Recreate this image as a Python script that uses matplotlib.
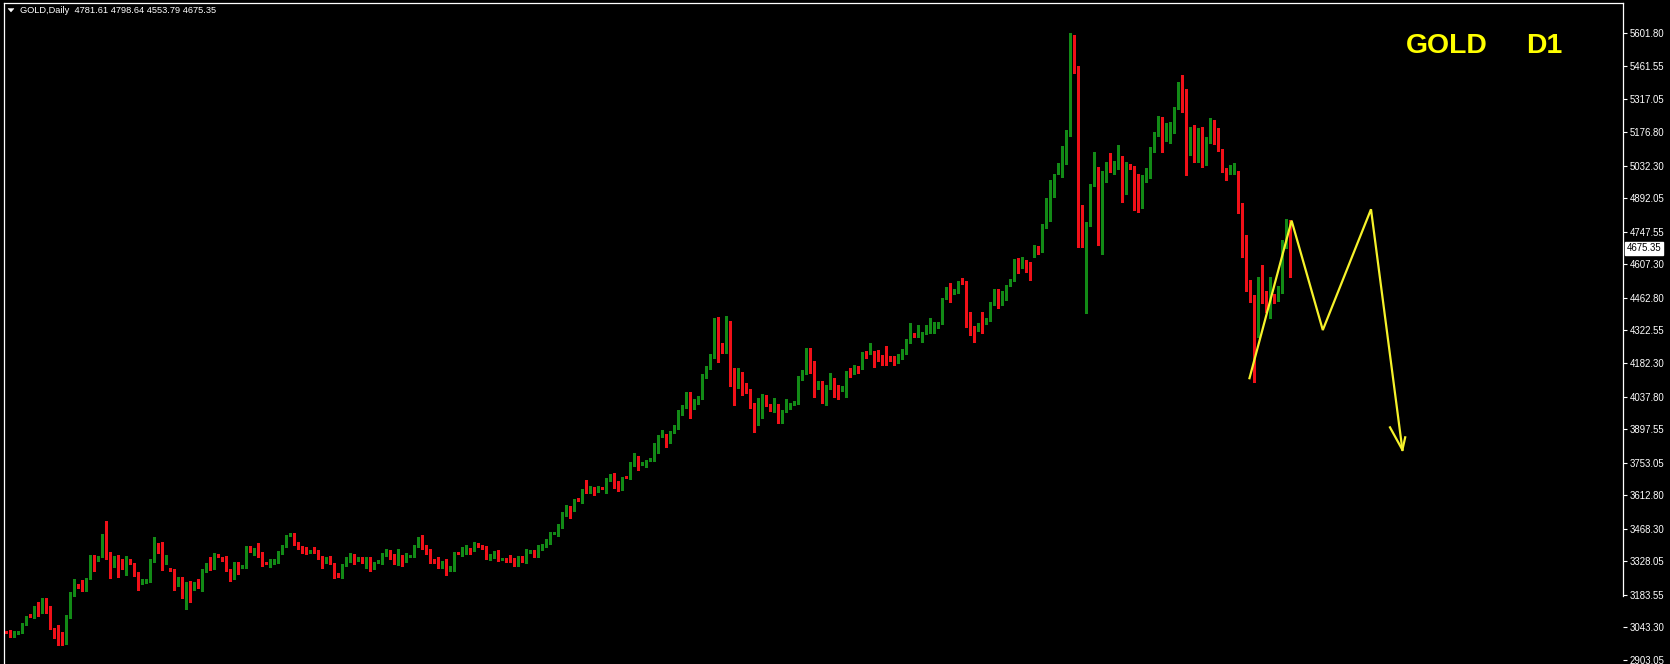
import matplotlib
matplotlib.use('Agg')
import matplotlib.pyplot as plt
from matplotlib.patches import Polygon
import matplotlib.transforms as mtransforms
import numpy as np

W, H, DPI = 1670, 664, 100

# ---------------- data (daily OHLC) ----------------
opens = [
    3026, 3029, 3008, 3020, 3021, 3058, 3094, 3092, 3133, 3111,
    3168, 3112, 3034, 3002, 2982, 2975, 3090, 3190, 3224, 3226,
    3207, 3255, 3351, 3334, 3351, 3437, 3336, 3312, 3351, 3334,
    3305, 3336, 3319, 3273, 3237, 3239, 3245, 3331, 3402, 3377,
    3322, 3293, 3291, 3226, 3255, 3183, 3240, 3212, 3245, 3204,
    3288, 3322, 3298, 3353, 3345, 3345, 3290, 3255, 3322, 3302,
    3308, 3391, 3359, 3377, 3365, 3322, 3312, 3319, 3326, 3362,
    3394, 3440, 3449, 3405, 3391, 3384, 3369, 3384, 3374, 3348,
    3326, 3345, 3319, 3273, 3262, 3312, 3334, 3355, 3334, 3341,
    3305, 3341, 3298, 3325, 3320, 3355, 3374, 3355, 3320, 3351,
    3330, 3350, 3348, 3391, 3437, 3394, 3377, 3334, 3341, 3305,
    3334, 3291, 3290, 3365, 3355, 3363, 3384, 3377, 3403, 3398,
    3391, 3337, 3348, 3374, 3336, 3338, 3336, 3341, 3312, 3348,
    3327, 3370, 3374, 3351, 3380, 3391, 3408, 3448, 3441, 3474,
    3527, 3564, 3549, 3594, 3585, 3647, 3628, 3647, 3632, 3645,
    3628, 3678, 3704, 3671, 3638, 3692, 3686, 3743, 3779, 3749,
    3739, 3763, 3764, 3829, 3866, 3872, 3858, 3886, 3901, 3965,
    3994, 4016, 3987, 4008, 4030, 4123, 4159, 4209, 4371, 4267,
    4231, 4360, 4097, 4080, 4130, 4092, 4066, 4006, 3951, 3951,
    4040, 4001, 3973, 4001, 3929, 3973, 3987, 4006, 4011, 4112,
    4138, 4192, 4188, 4073, 4102, 4037, 4073, 4112, 4083, 4066,
    4080, 4149, 4138, 4166, 4159, 4231, 4226, 4231, 4217, 4212,
    4209, 4209, 4209, 4188, 4202, 4224, 4274, 4307, 4296, 4296,
    4310, 4336, 4337, 4338, 4353, 4460, 4499, 4482, 4489, 4542,
    4532, 4341, 4336, 4324, 4353, 4353, 4367, 4436, 4496, 4461,
    4468, 4518, 4539, 4628, 4597, 4623, 4614, 4643, 4680, 4662,
    4772, 4800, 4913, 4999, 5028, 5042, 5164, 5516, 5451, 4791,
    4741, 4776, 4949, 5020, 4654, 4985, 5078, 4999, 5020, 5071,
    4913, 5035, 5028, 4992, 4855, 4970, 4985, 5107, 5164, 5236,
    5142, 5164, 5178, 5279, 5379, 5358, 5121, 5171, 5071, 5193,
    5071, 5135, 5200, 5142, 5099, 5016, 4999, 4999, 5006, 4834,
    4647, 4496, 4468, 4446, 4547, 4489, 4410, 4475, 4453, 4511,
    4683, 4781.61,
]
highs = [
    3030, 3034, 3028, 3030, 3064, 3092, 3100, 3135, 3155, 3170,
    3172, 3135, 3040, 3054, 3025, 3095, 3194, 3250, 3230, 3248,
    3256, 3355, 3355, 3352, 3445, 3500, 3370, 3352, 3355, 3338,
    3351, 3340, 3322, 3280, 3250, 3250, 3336, 3434, 3408, 3410,
    3355, 3300, 3295, 3260, 3260, 3240, 3245, 3240, 3250, 3293,
    3322, 3348, 3365, 3358, 3348, 3350, 3295, 3325, 3326, 3312,
    3395, 3395, 3384, 3408, 3370, 3326, 3336, 3340, 3372, 3400,
    3440, 3452, 3452, 3410, 3395, 3390, 3375, 3390, 3378, 3350,
    3348, 3350, 3322, 3276, 3315, 3345, 3365, 3360, 3345, 3345,
    3348, 3345, 3327, 3332, 3362, 3380, 3377, 3358, 3380, 3355,
    3362, 3356, 3400, 3435, 3440, 3398, 3380, 3338, 3345, 3330,
    3338, 3310, 3367, 3368, 3390, 3398, 3387, 3410, 3406, 3400,
    3394, 3358, 3372, 3377, 3344, 3342, 3355, 3344, 3352, 3351,
    3380, 3376, 3377, 3398, 3402, 3424, 3455, 3454, 3490, 3540,
    3570, 3568, 3597, 3600, 3640, 3678, 3654, 3650, 3652, 3649,
    3685, 3705, 3708, 3674, 3690, 3695, 3754, 3793, 3783, 3755,
    3765, 3771, 3837, 3870, 3894, 3875, 3890, 3915, 3978, 4000,
    4059, 4059, 4027, 4041, 4135, 4170, 4222, 4378, 4380, 4270,
    4384, 4364, 4159, 4159, 4145, 4095, 4070, 4010, 4030, 4048,
    4044, 4004, 4030, 4005, 3981, 4026, 4010, 4020, 4127, 4150,
    4245, 4245, 4192, 4106, 4106, 4087, 4138, 4116, 4087, 4084,
    4149, 4159, 4173, 4170, 4228, 4235, 4267, 4235, 4238, 4216,
    4255, 4212, 4213, 4221, 4242, 4285, 4353, 4311, 4346, 4317,
    4345, 4374, 4360, 4360, 4464, 4508, 4525, 4500, 4536, 4547,
    4536, 4403, 4340, 4354, 4403, 4378, 4443, 4500, 4500, 4490,
    4518, 4543, 4628, 4633, 4640, 4627, 4618, 4690, 4684, 4780,
    4891, 4968, 4996, 5043, 5118, 5185, 5602, 5595, 5460, 4863,
    4790, 4955, 5092, 5025, 5010, 5049, 5085, 5053, 5121, 5075,
    5049, 5039, 5032, 4996, 4990, 5020, 5111, 5175, 5247, 5240,
    5214, 5221, 5283, 5390, 5422, 5362, 5200, 5207, 5193, 5197,
    5154, 5236, 5229, 5193, 5103, 5020, 5035, 5042, 5010, 4870,
    4733, 4540, 4475, 4554, 4604, 4493, 4554, 4480, 4515, 4710,
    4801, 4798.64,
]
lows = [
    3020, 3002, 3004, 3016, 3018, 3055, 3088, 3085, 3092, 3105,
    3105, 3038, 3000, 2968, 2968, 2970, 3083, 3180, 3215, 3200,
    3200, 3250, 3285, 3330, 3345, 3340, 3255, 3305, 3262, 3296,
    3269, 3315, 3265, 3204, 3230, 3236, 3240, 3325, 3365, 3290,
    3315, 3285, 3204, 3220, 3169, 3121, 3154, 3205, 3215, 3200,
    3283, 3290, 3293, 3345, 3330, 3286, 3245, 3250, 3275, 3298,
    3300, 3370, 3355, 3345, 3310, 3315, 3305, 3315, 3320, 3358,
    3390, 3438, 3400, 3382, 3366, 3360, 3362, 3366, 3340, 3298,
    3320, 3316, 3255, 3260, 3258, 3308, 3327, 3316, 3330, 3322,
    3298, 3288, 3294, 3320, 3316, 3352, 3336, 3316, 3312, 3308,
    3327, 3346, 3345, 3388, 3380, 3358, 3322, 3322, 3300, 3300,
    3270, 3287, 3286, 3358, 3350, 3358, 3360, 3372, 3388, 3380,
    3336, 3333, 3344, 3330, 3332, 3324, 3327, 3308, 3308, 3324,
    3322, 3366, 3348, 3347, 3376, 3388, 3404, 3444, 3436, 3470,
    3522, 3513, 3545, 3586, 3580, 3624, 3624, 3614, 3628, 3638,
    3624, 3674, 3646, 3630, 3634, 3686, 3682, 3740, 3721, 3745,
    3735, 3760, 3760, 3793, 3862, 3819, 3836, 3882, 3897, 3960,
    3990, 3944, 3982, 4004, 4025, 4118, 4155, 4205, 4188, 4226,
    4226, 4083, 4001, 4075, 4044, 4055, 3990, 3886, 3915, 3946,
    3997, 3976, 3970, 3925, 3925, 3970, 3983, 4002, 4007, 4108,
    4134, 4140, 4037, 4068, 4008, 4001, 4068, 4037, 4026, 4062,
    4037, 4122, 4134, 4141, 4155, 4205, 4222, 4166, 4191, 4173,
    4173, 4190, 4173, 4184, 4198, 4220, 4270, 4294, 4292, 4274,
    4306, 4310, 4310, 4334, 4349, 4456, 4446, 4478, 4485, 4521,
    4337, 4303, 4274, 4320, 4310, 4349, 4363, 4432, 4417, 4430,
    4453, 4514, 4535, 4568, 4593, 4575, 4539, 4639, 4653, 4658,
    4762, 4795, 4898, 4995, 4985, 5038, 5160, 5430, 4683, 4683,
    4396, 4770, 4945, 4690, 4650, 4963, 5006, 4995, 5016, 4877,
    4909, 5016, 4841, 4834, 4850, 4963, 4980, 5092, 5160, 5092,
    5138, 5128, 5174, 5275, 5264, 4992, 5078, 5049, 5049, 5028,
    5035, 5131, 5124, 5095, 5006, 4970, 4995, 4995, 4830, 4640,
    4490, 4446, 4102, 4296, 4439, 4403, 4375, 4439, 4449, 4482,
    4679, 4553.79,
]
closes = [
    3025, 3005, 3024, 3026, 3060, 3088, 3092, 3128, 3111, 3168,
    3112, 3040, 3000, 2975, 2975, 3090, 3190, 3248, 3221, 3205,
    3255, 3351, 3326, 3351, 3440, 3342, 3312, 3351, 3302, 3298,
    3341, 3319, 3269, 3233, 3250, 3248, 3334, 3402, 3369, 3312,
    3326, 3291, 3240, 3258, 3183, 3240, 3197, 3236, 3219, 3293,
    3322, 3293, 3365, 3350, 3334, 3290, 3248, 3322, 3279, 3308,
    3391, 3374, 3381, 3348, 3312, 3319, 3334, 3336, 3369, 3398,
    3434, 3449, 3402, 3384, 3369, 3362, 3370, 3369, 3341, 3319,
    3345, 3319, 3269, 3262, 3312, 3341, 3355, 3320, 3341, 3327,
    3341, 3294, 3323, 3327, 3359, 3374, 3341, 3320, 3348, 3312,
    3359, 3351, 3398, 3431, 3384, 3363, 3327, 3327, 3305, 3327,
    3276, 3305, 3363, 3362, 3384, 3388, 3363, 3406, 3391, 3384,
    3341, 3355, 3365, 3334, 3341, 3327, 3333, 3312, 3348, 3327,
    3377, 3371, 3351, 3394, 3398, 3420, 3451, 3449, 3485, 3535,
    3564, 3546, 3592, 3591, 3635, 3628, 3650, 3628, 3647, 3643,
    3681, 3700, 3650, 3635, 3686, 3689, 3750, 3767, 3736, 3750,
    3761, 3767, 3833, 3865, 3868, 3858, 3886, 3911, 3973, 3997,
    4016, 3987, 4023, 4037, 4130, 4166, 4217, 4371, 4245, 4231,
    4367, 4087, 4080, 4123, 4080, 4059, 3994, 3958, 3987, 4044,
    4001, 3980, 4001, 3929, 3977, 3994, 4006, 4016, 4123, 4145,
    4195, 4145, 4080, 4102, 4037, 4083, 4106, 4073, 4059, 4080,
    4145, 4126, 4169, 4145, 4224, 4209, 4228, 4209, 4195, 4195,
    4195, 4195, 4188, 4217, 4238, 4281, 4303, 4298, 4305, 4313,
    4341, 4346, 4338, 4356, 4460, 4504, 4475, 4496, 4532, 4525,
    4341, 4331, 4310, 4350, 4324, 4374, 4439, 4496, 4460, 4485,
    4511, 4539, 4600, 4597, 4623, 4590, 4590, 4672, 4657, 4776,
    4880, 4963, 4992, 5039, 5114, 5171, 5516, 5437, 4884, 4741,
    4776, 4949, 5013, 4697, 5006, 5035, 5028, 5049, 5064, 4913,
    5045, 5020, 4985, 4855, 4985, 5006, 5107, 5171, 5243, 5142,
    5164, 5185, 5279, 5386, 5350, 5121, 5164, 5078, 5171, 5071,
    5150, 5200, 5128, 5099, 5020, 4985, 5013, 5020, 4834, 4647,
    4496, 4453, 4439, 4547, 4489, 4410, 4496, 4446, 4511, 4705,
    4791, 4675.35,
]

tick_values = [5601.80, 5461.55, 5317.05, 5176.80, 5032.30, 4892.05, 4747.55,
               4607.30, 4462.80, 4322.55, 4182.30, 4037.80, 3897.55, 3753.05,
               3612.80, 3468.30, 3328.05, 3183.55, 3043.30, 2903.05]
last_price = 4675.35
header_text = "GOLD,Daily  4781.61 4798.64 4553.79 4675.35"
title_left = "GOLD"
title_right = "D1"

# hand-drawn projection (bar index, price)
zigzag_bar = [310.8, 321.4, 329.2, 341.25, 349.1]
zigzag_price = [4112, 4795, 4324, 4844, 3808]
arrow_left_bar = [346.0, 349.1]
arrow_left_price = [3905, 3808]
arrow_right_bar = [349.8, 349.1]
arrow_right_price = [3862, 3808]

# ---------------- figure ----------------
UP = '#128a16'
DOWN = '#f01018'
YEL = '#ffff00'
LINE_YEL = '#f6f22a'


def fx(x):
    return x / W


def fy(y):
    return 1 - y / H


fig = plt.figure(figsize=(W / DPI, H / DPI), dpi=DPI, facecolor='black')
ax = fig.add_axes([fx(3.5), 0.0, fx(1623) - fx(3.5), fy(2.5)])
ax.set_facecolor('black')
ax.set_xlim(-0.625, 404.25)
ax.set_ylim(2886.0, 5734.4)

o = np.array(opens, dtype=float)
h = np.array(highs, dtype=float)
l = np.array(lows, dtype=float)
c = np.array(closes, dtype=float)
idx = np.arange(len(c))
up = c >= o
cols = np.where(up, UP, DOWN)

ax.vlines(idx, l, h, colors=cols, linewidth=0.8, zorder=2, antialiased=False)
body_bot = np.minimum(o, c)
body_h = np.maximum(np.abs(c - o), 4.5)
ax.bar(idx, body_h, bottom=body_bot, width=0.74, color=cols, linewidth=0,
       zorder=3, antialiased=False)

# projection lines
ax.plot(zigzag_bar, zigzag_price, color=LINE_YEL, lw=1.6, zorder=5,
        solid_joinstyle='miter', solid_capstyle='butt')
ax.plot(arrow_left_bar, arrow_left_price, color=LINE_YEL, lw=1.6, zorder=5)
ax.plot(arrow_right_bar, arrow_right_price, color=LINE_YEL, lw=1.6, zorder=5)

# axes styling
ax.set_xticks([])
ax.yaxis.tick_right()
ax.set_yticks(tick_values)
ax.set_yticklabels([f'{v:.2f}' for v in tick_values])
ax.tick_params(axis='y', colors='white', length=3, width=0.8, pad=1.5,
               labelsize=6.9, labelcolor='white')
for lab in ax.get_yticklabels():
    lab.set_family('Liberation Sans')

for s in ['left', 'top', 'right']:
    ax.spines[s].set_color('white')
    ax.spines[s].set_linewidth(0.9)
ax.spines['bottom'].set_visible(False)
ax.spines['right'].set_bounds(3180.0, 5734.4)

# current price box
trans = mtransforms.blended_transform_factory(ax.transAxes, ax.transData)
ax.text(1.0 + 3.5 / (1623 - 3.5), last_price, f'{last_price:.2f}', transform=trans,
        ha='left', va='center', fontsize=6.9, family='Liberation Sans', color='black',
        bbox=dict(boxstyle='square,pad=0.16', facecolor='white', edgecolor='white'),
        zorder=10, clip_on=False)

# header
tri = Polygon([[fx(8), fy(8.5)], [fx(14), fy(8.5)], [fx(11), fy(12)]], closed=True,
              transform=fig.transFigure, facecolor='white', edgecolor='white', lw=0.3)
fig.patches.append(tri)
fig.text(fx(20.5), fy(10.5), header_text, color='white', fontsize=6.7,
         family='Liberation Sans', va='center', ha='left')

# title
fig.text(fx(1406.0), fy(53), title_left, color=YEL, fontsize=20.4, fontweight='bold',
         family='Liberation Sans', va='baseline', ha='left')
fig.text(fx(1526.0), fy(53), title_right, color=YEL, fontsize=20.4, fontweight='bold',
         family='Liberation Sans', va='baseline', ha='left')

fig.savefig('out.png', dpi=DPI, facecolor='black')
